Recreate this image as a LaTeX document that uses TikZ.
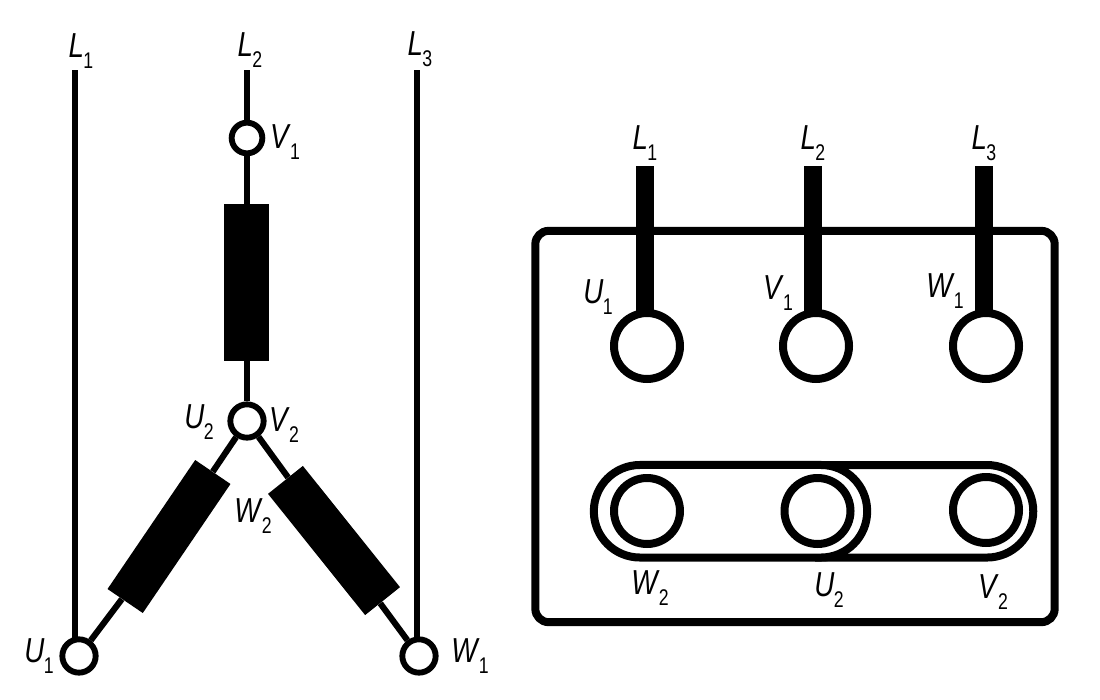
\documentclass[tikz,border=0pt]{standalone}
\usepackage{fontspec}
\setmainfont{Liberation Sans}
\newcommand{\lab}[2]{\scalebox{0.8}[1]{\textit{#1}}\kern-0.02em\raisebox{-0.3em}{\scalebox{0.78}[1]{\fontsize{17}{19}\selectfont #2}}}
\tikzset{
  x=0.75pt,y=-0.75pt,
  wire/.style={line width=5pt,black},
  thinwire/.style={line width=4.6pt,black},
  stub/.style={line width=13.5pt,black},
  hub/.style={circle,draw=black,fill=white,line width=4.4pt,inner sep=0pt,minimum size=25pt},
  smallhub/.style={hub,minimum size=23pt},
  term/.style={circle,draw=black,fill=white,line width=6pt,inner sep=0pt,minimum size=49.5pt},
  coil/.style={rectangle,fill=black,draw=none,inner sep=0pt},
  tag/.style={font=\fontsize{26}{28}\selectfont,inner sep=0pt,text=black},
  linkline/.style={line width=6pt,black,fill=white}
}
\begin{document}
\begin{tikzpicture}
\useasboundingbox[fill=white] (0,0) rectangle (1100,700);
% left: star circuit
\coordinate (tA) at (75,70);
\coordinate (bA) at (75,642);
\coordinate (tB) at (247,70);
\coordinate (tC) at (417,70);
\coordinate (bC) at (417,642);
\node[smallhub] (V1) at (247,138) {};
\node[hub] (N) at (247,421) {};
\node[hub] (U1) at (79,656) {};
\node[hub] (W1) at (419,656) {};
\node[coil,minimum width=33.5pt,minimum height=118pt] (RV) at (246.5,282.5) {};
\node[coil,rotate=55.8,minimum width=117pt,minimum height=32pt] (RU) at (169,536.5) {};
\node[coil,rotate=-51.3,minimum width=116.5pt,minimum height=33.5pt] (RW) at (334,540.5) {};
\draw[wire] (tA) -- (bA);
\draw[wire] (tC) -- (bC);
\draw[wire] (tB) -- (V1);
\draw[thinwire] (V1) -- (V1 |- RV.north);
\draw[thinwire] (N |- RV.south) -- (N);
\draw[thinwire] (N) -- (RU);
\draw[thinwire] (RU) -- (U1);
\draw[thinwire] (N) -- (RW);
\draw[thinwire] (RW) -- (W1);
\node[tag] at (81,51) {\lab{L}{1}};
\node[tag] at (250,50) {\lab{L}{2}};
\node[tag] at (420,49) {\lab{L}{3}};
\node[tag] at (285,142) {\lab{V}{1}};
\node[tag] at (199,422) {\lab{U}{2}};
\node[tag] at (284,425) {\lab{V}{2}};
\node[tag] at (253,516) {\lab{W}{2}};
\node[tag] at (39,656) {\lab{U}{1}};
\node[tag] at (470,656) {\lab{W}{1}};
% right: terminal box
\node[draw=black,line width=6pt,rounded corners=10pt,inner sep=0pt,minimum width=389.5pt,minimum height=293.5pt] (box) at (795,426.5) {};
\node[term] (T1) at (647,346) {};
\node[term] (T2) at (816,346) {};
\node[term] (T3) at (986,346) {};
\coordinate (sA) at (645,166);
\coordinate (sB) at (813,166);
\coordinate (sC) at (984,166);
\coordinate (eA) at (645,312);
\coordinate (eB) at (813,312);
\coordinate (eC) at (984,312);
\draw[stub] (sA) -- (eA);
\draw[stub] (sB) -- (eB);
\draw[stub] (sC) -- (eC);
% links
\draw[linkline] (815,465) -- (987,465) arc[start angle=90,end angle=-90,radius=34.7pt] -- (815,557.5);
\node[draw=black,fill=white,line width=6pt,rounded corners=34.6pt,inner sep=0pt,minimum width=205pt,minimum height=69.4pt] (link) at (730.5,511.25) {};
\node[term] (B1) at (647,511) {};
\node[term] (B2) at (817.5,511) {};
\node[term] (B3) at (986,510) {};
\node[tag] at (645,143) {\lab{L}{1}};
\node[tag] at (813,143) {\lab{L}{2}};
\node[tag] at (984,143) {\lab{L}{3}};
\node[tag] at (598,297) {\lab{U}{1}};
\node[tag] at (778,293) {\lab{V}{1}};
\node[tag] at (945,291) {\lab{W}{1}};
\node[tag] at (650,588) {\lab{W}{2}};
\node[tag] at (829,590) {\lab{U}{2}};
\node[tag] at (993,592) {\lab{V}{2}};
\end{tikzpicture}
\end{document}
